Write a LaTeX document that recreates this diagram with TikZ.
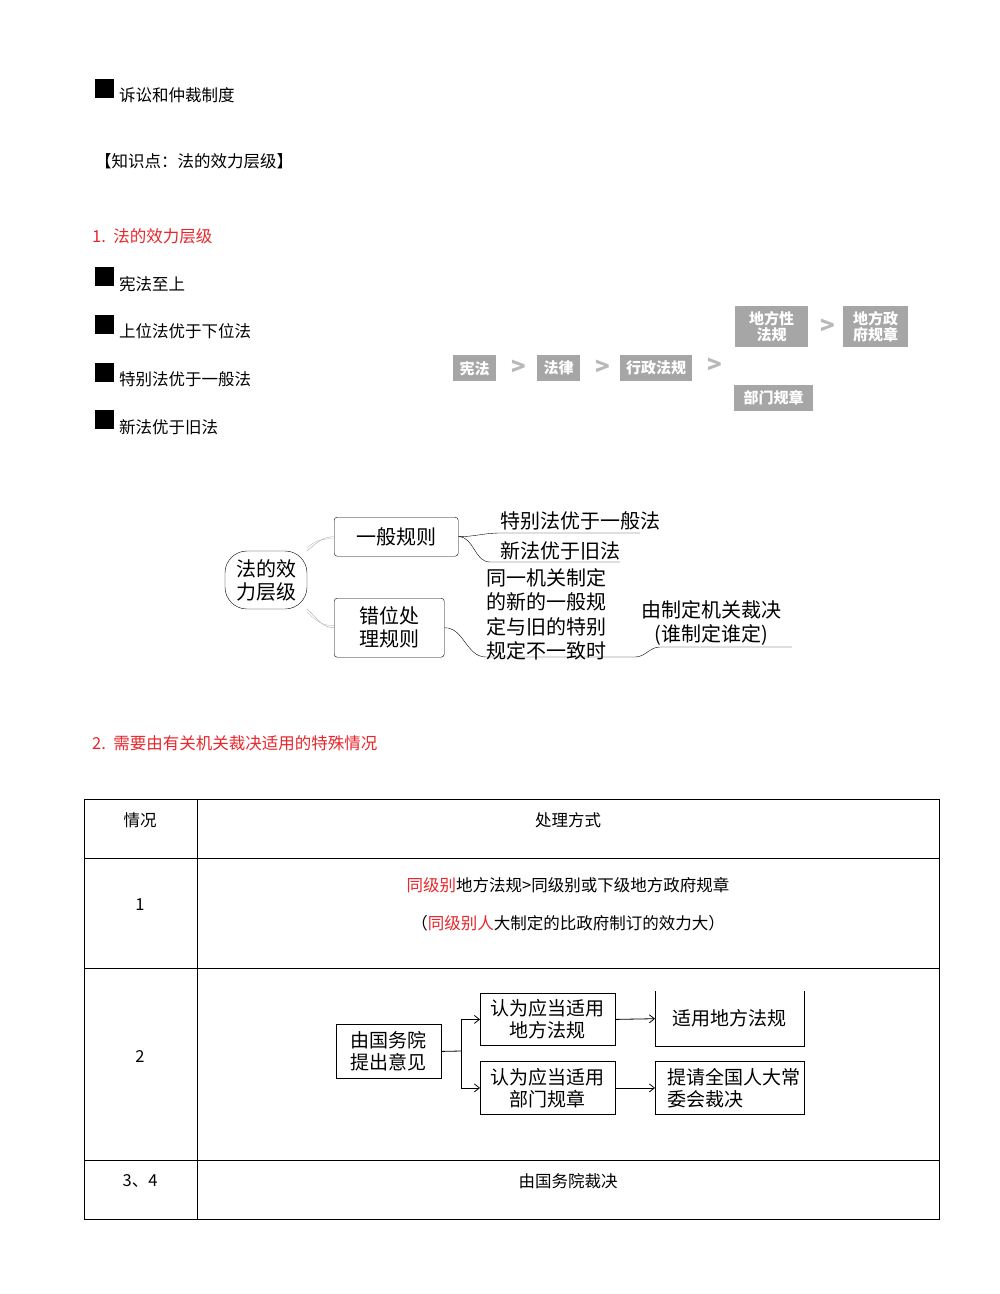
\documentclass[tikz,border=0pt]{standalone}
\usepackage{fontspec}
\setmainfont{Noto Sans CJK SC}
\newfontfamily\cjk{Noto Sans CJK SC}
\usetikzlibrary{arrows.meta}
\definecolor{gbox}{HTML}{A6A6A6}
\definecolor{garr}{HTML}{B8B8B8}
\definecolor{redt}{HTML}{E8262B}
\begin{document}
\begin{tikzpicture}[x=1pt,y=-1pt,
  body/.style={font=\fontsize{16.5}{19}\selectfont,anchor=west,inner sep=0},
  sq/.style={fill=black,minimum size=19,inner sep=0,anchor=north west},
  gb/.style={fill=gbox,text=white,font=\fontsize{15}{16}\selectfont\bfseries,inner sep=1,align=center,anchor=north west},
  gar/.style={font=\fontsize{24}{24}\selectfont\bfseries,text=garr,inner sep=0},
  mm/.style={draw,rounded corners=3,font=\fontsize{20}{23}\selectfont,align=left,anchor=north west,inner sep=0},
  mt/.style={font=\fontsize{20}{24.5}\selectfont,inner sep=0,align=left},
  fb/.style={draw,thick,font=\fontsize{19}{22}\selectfont,align=left,anchor=north west,inner sep=0},
  tc/.style={font=\fontsize{16.5}{19}\selectfont,inner sep=0},
  ar/.style={-{Straight Barb[length=5,width=8]}}
]
\useasboundingbox (0,0) rectangle (1000,1294);
% header
\node[sq] (s0) at (95,79) {};
\node[body] (t0) at (119,95) {诉讼和仲裁制度};
\node[body] (t1) at (95,161) {【知识点：法的效力层级】};
\node[body,text=redt] (t2) at (92,236) {1.\ \ 法的效力层级};
\node[sq] (s1) at (95,267) {}; \node[body] (b1) at (119,284) {宪法至上};
\node[sq] (s2) at (95,315) {}; \node[body] (b2) at (119,331) {上位法优于下位法};
\node[sq] (s3) at (95,363) {}; \node[body] (b3) at (119,379) {特别法优于一般法};
\node[sq] (s4) at (95,410) {}; \node[body] (b4) at (119,427) {新法优于旧法};
% gray boxes
\node[gb,minimum width=43,minimum height=26] (g1) at (453,355) {宪法};
\node[gar] (a1) at (519,368) {>};
\node[gb,minimum width=43,minimum height=26] (g2) at (537,355) {法律};
\node[gar] (a2) at (603,368) {>};
\node[gb,minimum width=72,minimum height=26] (g3) at (620,355) {行政法规};
\node[gar] (a3) at (715,366) {>};
\node[gb,minimum width=73,minimum height=41] (g4) at (735,306) {地方性\\法规};
\node[gar] (a4) at (828,327) {>};
\node[gb,minimum width=65,minimum height=41] (g5) at (843,306) {地方政\\府规章};
\node[gb,minimum width=79,minimum height=26] (g6) at (734,385) {部门规章};
% mind map
\node[draw,rounded corners=22,minimum width=82,minimum height=58,font=\fontsize{20}{23}\selectfont,align=center,inner sep=0] (root) at (266,580) {法的效\\力层级};
\node[mm,minimum width=124,minimum height=39,align=center] (c1) at (334,517) {一般规则};
\node[mm,minimum width=110,minimum height=59,align=center] (c2) at (334,598) {错位处\\理规则};
\draw[gray!70] (root.north east) to[out=40,in=180] (c1.west);
\draw[gray!50] ([yshift=3]root.north east) to[out=45,in=180] ([yshift=-2]c1.west);
\draw[gray!70] (root.south east) to[out=-40,in=180] (c2.west);
\draw[gray!50] ([yshift=-3]root.south east) to[out=-45,in=180] ([yshift=2]c2.west);
\node[mt,anchor=west] (l1) at (500,521) {特别法优于一般法};
\node[mt,anchor=west] (l2) at (500,551) {新法优于旧法};
\coordinate (u1a) at (500,533); \coordinate (u1b) at (640,533);
\coordinate (u2a) at (490,562); \coordinate (u2b) at (620,562);
\draw (c1.east) to[out=0,in=180] (u1a) -- (u1b);
\draw (c1.east) to[out=0,in=180] (u2a) -- (u2b);
\node[mt,anchor=north west] (l3) at (486,568) {同一机关制定\\的新的一般规\\定与旧的特别\\规定不一致时};
\coordinate (u3a) at (486,657); \coordinate (u3b) at (635,657);
\draw (c2.east) to[out=0,in=180] (u3a) -- (u3b);
\node[mt,align=center] (l4) at (711,623) {由制定机关裁决\\(谁制定谁定)};
\coordinate (u4a) at (660,647); \coordinate (u4b) at (792,647);
\draw (u3b) to[out=0,in=180] (u4a) -- (u4b);
% section 2
\node[body,text=redt] (t3) at (92,743) {2.\ \ 需要由有关机关裁决适用的特殊情况};
% table
\draw (84,799) rectangle (939,1219);
\draw (197,799) -- (197,1219);
\foreach \yy in {858,968,1160} \draw (84,\yy) -- (939,\yy);
\node[tc] (h1) at (140,820) {情况};
\node[tc] (h2) at (568,820) {处理方式};
\node[tc] (r1) at (140,905) {1};
\node[tc] (r1a) at (568,885) {\textcolor{redt}{同级别}地方法规>同级别或下级地方政府规章};
\node[tc] (r1b) at (568,923) {（\textcolor{redt}{同级别人}大制定的比政府制订的效力大）};
\node[tc] (r2) at (140,1056) {2};
\node[tc] (r3) at (140,1181) {3、4};
\node[tc] (r3a) at (568,1181) {由国务院裁决};
% flowchart
\node[fb,minimum width=105,minimum height=54,align=center] (f0) at (336,1024) {由国务院\\提出意见};
\node[fb,minimum width=135,minimum height=52,align=center] (f1) at (480,993) {认为应当适用\\地方法规};
\node[fb,minimum width=135,minimum height=53,align=center] (f2) at (480,1061) {认为应当适用\\部门规章};
\node[minimum width=149,minimum height=55,font=\fontsize{19}{22}\selectfont,inner sep=0,anchor=north west] (f3) at (655,991) {适用地方法规};
\draw[thick] (f3.north west) -- (f3.south west) -- (f3.south east) -- (f3.north east);
\node[fb,minimum width=149,minimum height=53,align=left,text width=140] (f4) at (655,1061) {\hspace*{8pt}提请全国人大常\\\hspace*{8pt}委会裁决};
\coordinate (jn) at (461,1051);
\draw[thick] (f0.east) -- (jn);
\draw[thick,ar] (jn) |- (f1.west);
\draw[thick,ar] (jn) |- (f2.west);
\draw[thick,ar] (f1.east) -- (f3.west);
\draw[thick,ar] (f2.east) -- (f4.west);
\end{tikzpicture}
\end{document}
